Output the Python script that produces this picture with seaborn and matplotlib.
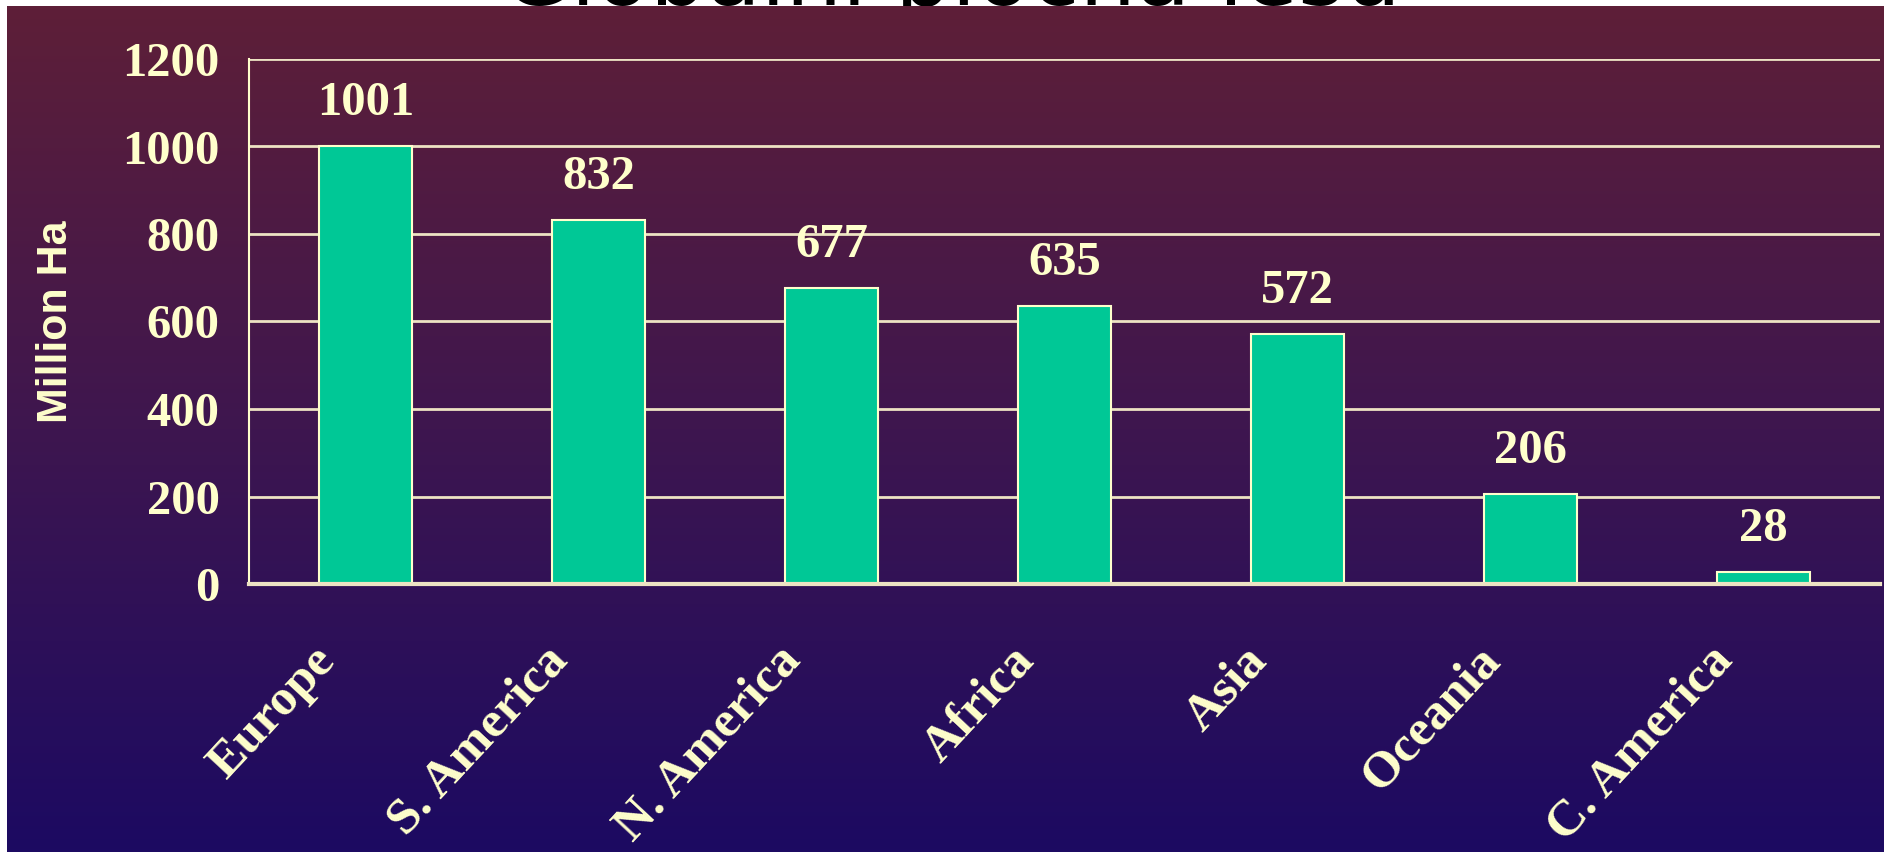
import matplotlib
matplotlib.use('Agg')
import matplotlib.pyplot as plt
import matplotlib.colors as mcolors
from matplotlib.transforms import ScaledTranslation
import numpy as np
import pandas as pd
import seaborn as sns

# data
regions = ['Europe', 'S. America', 'N. America', 'Africa', 'Asia', 'Oceania', 'C. America']
forest_area = [1001, 832, 677, 635, 572, 206, 28]
y_ticks = [0, 200, 400, 600, 800, 1000, 1200]
title = 'Globální plocha lesů'
y_label = 'Million Ha'

cream = '#FFFFCC'
bar_green = '#00C896'

sns.set_theme(style='white')
plt.rcParams['font.family'] = ['Liberation Serif', 'DejaVu Serif']

fig = plt.figure(figsize=(18.84, 8.52), dpi=100)
fig.patch.set_facecolor('white')

# title is mostly hidden behind the slide background
fig.text(0.505, 1 - 5 / 852, title, ha='center', va='baseline', fontsize=64,
         family=['DejaVu Sans'], color='black', zorder=-2)

# gradient background panel
bg = fig.add_axes([7 / 1884, 0, 1 - 7 / 1884, 1 - 6 / 852], zorder=-1)
grad = mcolors.LinearSegmentedColormap.from_list('bg', ['#1C0A62', '#3E164F', '#5E1F38'])
bg.imshow(np.linspace(0, 1, 256).reshape(-1, 1), cmap=grad, aspect='auto',
          origin='lower', extent=[0, 1, 0, 1])
bg.axis('off')

ax = fig.add_axes([249 / 1884, 268 / 852, 1631 / 1884, 525 / 852])
ax.patch.set_alpha(0)

df = pd.DataFrame({'region': regions, 'area': forest_area})
sns.barplot(data=df, x='region', y='area', color=bar_green, saturation=1,
            width=0.4, edgecolor=cream, linewidth=1.5, ax=ax)

ax.set_xlim(-0.5, 6.5)
ax.set_ylim(0, 1200)
ax.set_yticks(y_ticks)
ax.yaxis.grid(True, color='#EDE3C3', lw=2)
ax.xaxis.grid(False)
ax.set_axisbelow(True)

for side in ['top', 'right']:
    ax.spines[side].set_visible(False)
ax.spines['left'].set_color(cream)
ax.spines['left'].set_linewidth(1.5)
ax.spines['bottom'].set_color('#EDE3C3')
ax.spines['bottom'].set_linewidth(3)

ax.tick_params(axis='y', direction='out', length=12, width=1.5, color=cream,
               pad=9, labelsize=35, labelcolor=cream)
for lbl in ax.get_yticklabels():
    lbl.set_fontweight('bold')

ax.set_xticks(np.arange(-0.5, 7, 1), minor=True)
ax.tick_params(axis='x', which='minor', direction='out', length=12, width=1.5, color=cream)
ax.tick_params(axis='x', which='major', length=0, pad=50)
ax.set_xticks(range(len(regions)))
ax.set_xticklabels(regions, rotation=47, ha='right', va='center', rotation_mode='anchor',
                   fontsize=37, fontweight='bold', color=cream)
shift = ScaledTranslation(-0.38, 0, fig.dpi_scale_trans)
for lbl in ax.get_xticklabels():
    lbl.set_transform(lbl.get_transform() + shift)
ax.set_xlabel('')

ax.bar_label(ax.containers[0], labels=[str(v) for v in forest_area], padding=15,
             fontsize=35, fontweight='bold', color=cream)

ax.set_ylabel(y_label, family=['Liberation Sans'], fontweight='bold', fontsize=31, color=cream)
ax.yaxis.set_label_coords(-0.106, 0.5)

fig.savefig('out.png', dpi=100)
